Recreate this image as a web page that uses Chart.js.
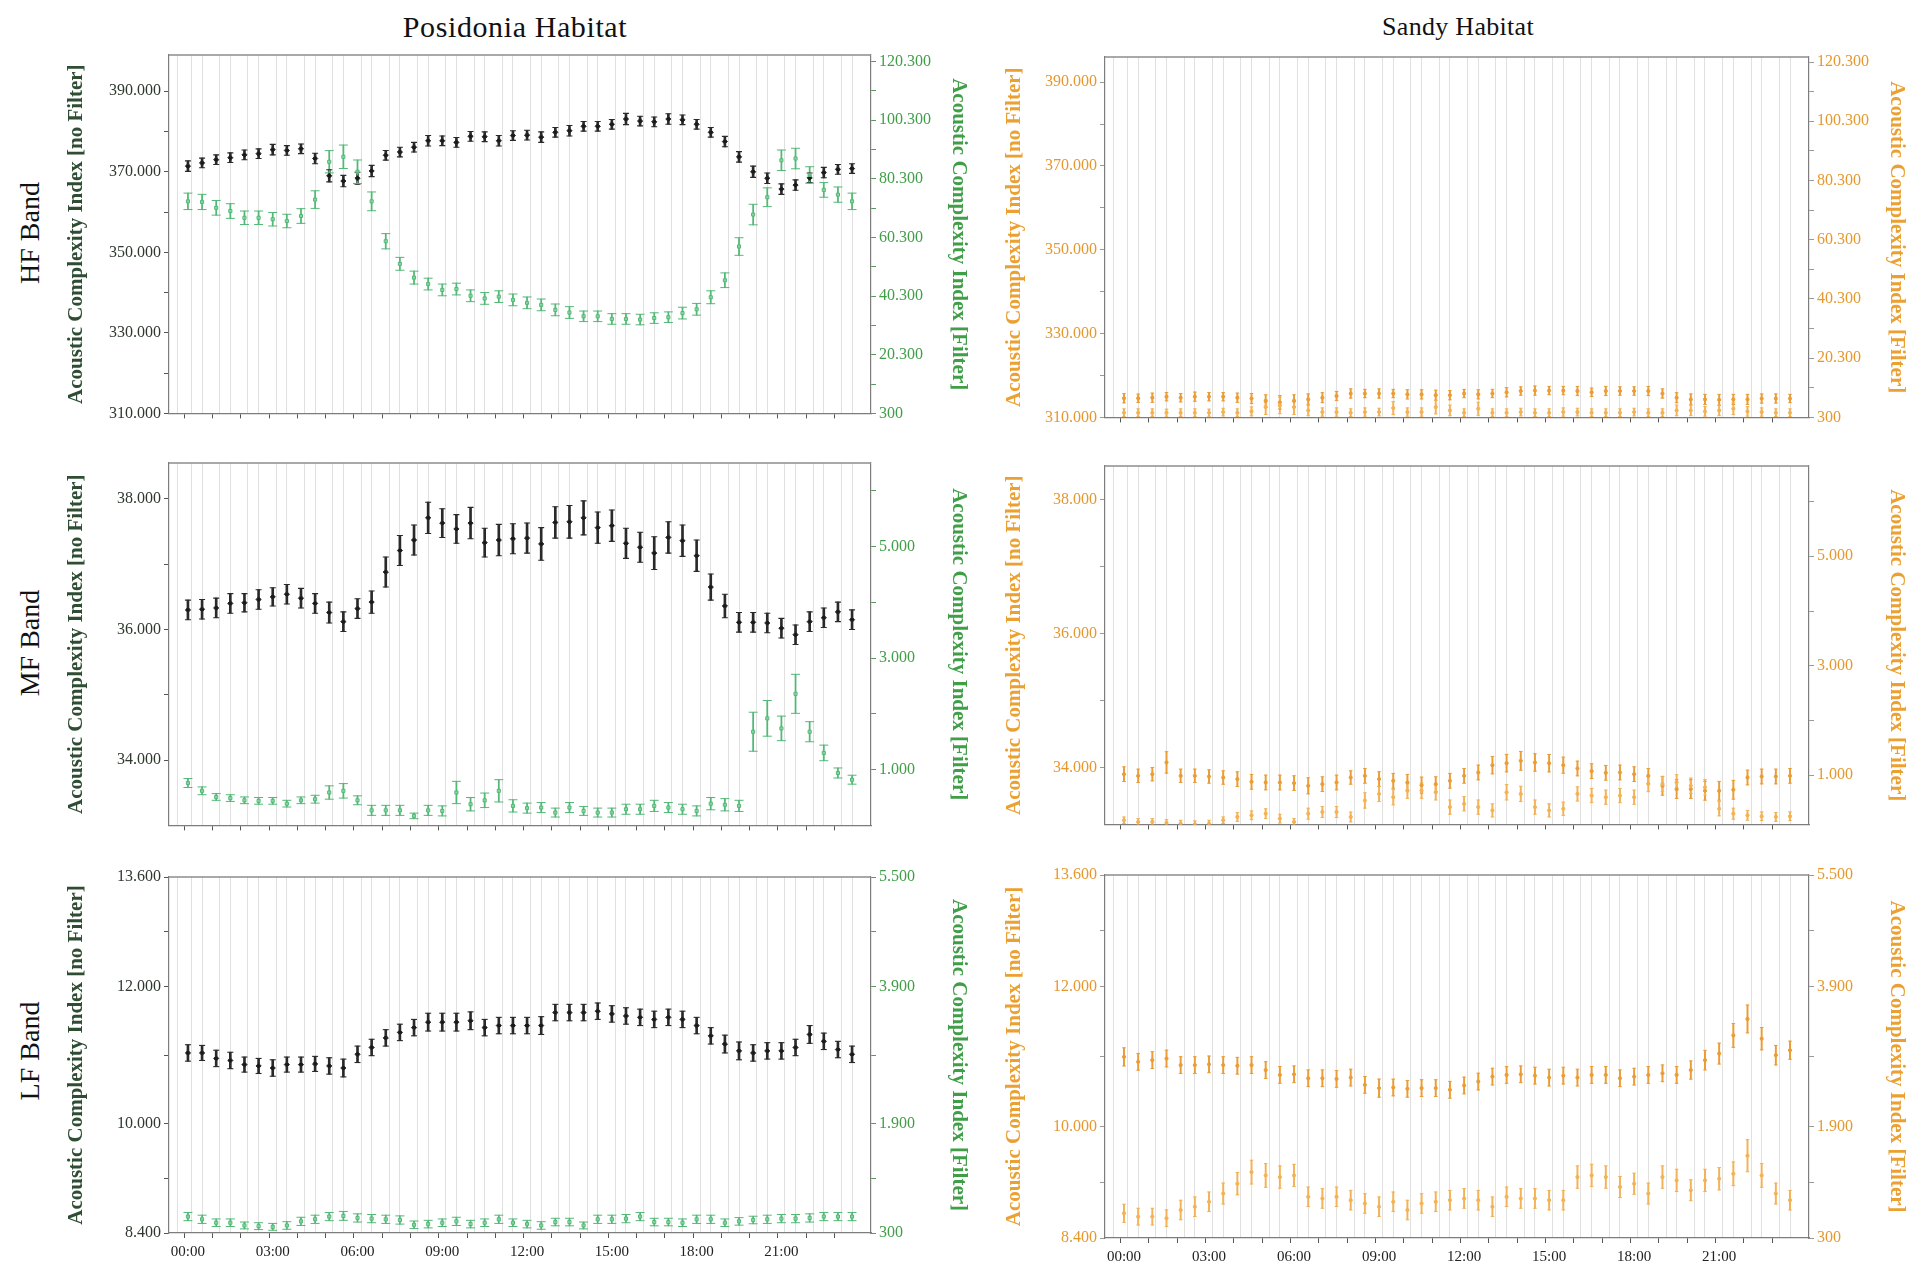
<!DOCTYPE html>
<html><head><meta charset="utf-8">
<script src="https://cdn.jsdelivr.net/npm/chart.js@4.4.1/dist/chart.umd.min.js"></script>
<style>
html,body{margin:0;padding:0;background:#fff;}
body{width:1912px;height:1267px;position:relative;overflow:hidden;font-family:'Liberation Serif',serif;}
canvas{position:absolute;}
.ttl{position:absolute;white-space:nowrap;color:#111;transform:translate(-50%,-50%);}
.row{position:absolute;white-space:nowrap;color:#111;font-size:28px;transform:translate(-50%,-50%) rotate(-90deg);}
</style></head><body>
<div class="ttl" style="left:515px;top:27px;font-size:30px;letter-spacing:0.6px;">Posidonia Habitat</div>
<div class="ttl" style="left:1458px;top:27px;font-size:26px;letter-spacing:0.3px;">Sandy Habitat</div>
<div class="row" style="left:30px;top:233px;">HF Band</div>
<div class="row" style="left:30px;top:643px;">MF Band</div>
<div class="row" style="left:30px;top:1051px;">LF Band</div>
<canvas id="c1" width="907" height="10"></canvas>
<canvas id="c2" width="907" height="10"></canvas>
<canvas id="c3" width="907" height="10"></canvas>
<canvas id="c4" width="907" height="10"></canvas>
<canvas id="c5" width="907" height="10"></canvas>
<canvas id="c6" width="907" height="10"></canvas>
<script>
// ---------------- categories & tick labels ----------------
const times = ['00:00','00:30','01:00','01:30','02:00','02:30','03:00','03:30','04:00','04:30','05:00','05:30',
 '06:00','06:30','07:00','07:30','08:00','08:30','09:00','09:30','10:00','10:30','11:00','11:30',
 '12:00','12:30','13:00','13:30','14:00','14:30','15:00','15:30','16:00','16:30','17:00','17:30',
 '18:00','18:30','19:00','19:30','20:00','20:30','21:00','21:30','22:00','22:30','23:00','23:30'];
const timeTickLabels = ['00:00','03:00','06:00','09:00','12:00','15:00','18:00','21:00'];
const hourMarks = ['00:00','01:00','02:00','03:00','04:00','05:00','06:00','07:00','08:00','09:00','10:00','11:00',
 '12:00','13:00','14:00','15:00','16:00','17:00','18:00','19:00','20:00','21:00','22:00','23:00'];

// y tick values
const hfLeftMajor = [310000, 330000, 350000, 370000, 390000];
const hfLeftMinor = [320000, 340000, 360000, 380000];
const hfRightMajor = [300, 20300, 40300, 60300, 80300, 100300, 120300];
const hfRightMinor = [10300, 30300, 50300, 70300, 90300, 110300];
const mfLeftMajor = [34000, 36000, 38000];
const mfLeftMinor = [35000, 37000];
const mfRightMajor = [1000, 3000, 5000];
const mfRightMinor = [2000, 4000, 6000];
const lfLeftMajor = [8400, 10000, 12000, 13600];
const lfLeftMinor = [9200, 11000, 12800];
const lfRightMajor = [300, 1900, 3900, 5500];
const lfRightMinor = [1100, 2900, 4700];

// ---------------- Posidonia HF ----------------
const posHfNoFilter = [371400,372200,373000,373500,374200,374500,375500,375300,375700,373300,369000,367700,
 368400,370200,374100,374900,376100,377700,377700,377300,378800,378700,377700,379000,
 379100,378600,379800,380200,381300,381300,381800,383100,382600,382400,383100,382900,
 381800,379800,377500,373700,370000,368400,365700,366700,368500,369800,370600,370800];
const posHfNoFilterErr = [1300,1200,1200,1200,1200,1200,1300,1200,1200,1300,1500,1400,
 1500,1400,1200,1200,1200,1300,1200,1200,1200,1200,1300,1200,
 1200,1300,1200,1300,1200,1200,1200,1400,1200,1200,1300,1200,
 1200,1200,1300,1300,1400,1300,1300,1300,1200,1300,1200,1200];
const posHfFilter = [72600,72400,70400,69300,67000,67000,66500,65900,67600,73200,86100,87800,
 82700,72600,59000,51300,46600,44400,42400,42700,40400,39500,40100,39000,
 38000,37300,35600,34700,33400,33400,32500,32500,32300,32800,33100,34500,
 35800,39900,45700,57200,68100,74000,86600,87200,81600,76500,74900,72600];
const posHfFilterErr = [2800,2600,2500,2500,2300,2300,2300,2300,2500,3000,3800,4000,
 4000,3200,2600,2200,2200,2000,2000,2000,2000,2000,2000,2000,
 2000,2000,2000,2000,1800,1800,1800,1800,1800,1800,1800,2000,
 2000,2200,2500,3000,3500,3200,3500,3500,2800,2500,2600,2800];

// ---------------- Posidonia MF ----------------
const posMfNoFilter = [36300,36310,36330,36400,36410,36460,36500,36540,36480,36400,36260,36120,
 36320,36420,36880,37210,37370,37710,37630,37540,37630,37330,37370,37390,
 37400,37310,37640,37650,37710,37560,37590,37320,37260,37170,37410,37360,
 37130,36650,36360,36110,36110,36100,36020,35920,36120,36180,36270,36150];
const posMfNoFilterErr = [150,150,150,150,140,150,140,150,150,150,160,150,
 150,170,230,230,230,240,220,220,240,220,240,230,
 230,250,240,250,260,240,240,230,230,250,240,240,
 240,200,180,150,150,150,150,150,150,150,150,150];
const posMfFilter = [760,620,510,490,450,440,440,390,450,470,590,620,
 450,270,270,270,170,270,260,590,380,450,620,350,
 310,320,230,320,260,230,230,290,290,350,320,290,
 260,390,370,350,1680,1920,1740,2360,1680,1300,940,820];
const posMfFilterErr = [80,70,60,60,60,60,60,60,60,70,120,130,
 80,90,90,90,50,90,90,200,120,130,200,110,
 90,90,80,90,80,80,80,90,90,100,90,90,
 90,110,110,100,350,320,220,350,180,140,90,80];

// ---------------- Posidonia LF ----------------
const posLfNoFilter = [11030,11030,10950,10920,10860,10840,10810,10860,10860,10870,10840,10810,
 11010,11110,11250,11330,11400,11480,11480,11480,11500,11400,11430,11430,
 11430,11430,11620,11620,11620,11640,11600,11570,11550,11520,11550,11520,
 11430,11280,11160,11060,11030,11060,11060,11110,11300,11200,11080,11010];
const posLfNoFilterErr = [120,110,120,120,110,110,120,110,110,110,120,130,
 120,120,120,120,120,130,130,130,130,120,120,120,
 120,130,120,120,120,120,120,120,120,120,120,120,
 120,120,130,130,120,120,120,120,130,120,120,120];
const posLfFilter = [540,500,450,450,410,400,390,410,470,500,540,550,
 520,510,500,490,420,430,450,470,430,450,500,450,
 430,410,460,460,410,500,500,510,540,460,460,450,
 500,500,450,470,490,500,510,510,520,540,540,540];
const posLfFilterErr = [60,60,55,55,50,50,50,55,60,60,60,65,
 60,60,60,60,55,55,55,60,55,55,60,55,
 55,55,55,55,50,60,60,60,60,55,55,55,
 60,60,55,55,55,60,60,60,60,60,60,60];

// ---------------- Sandy HF ----------------
const sandHfNoFilter = [314560,314560,314700,314950,314700,314950,314950,314950,314700,314500,313900,313600,
 313900,314300,314700,315100,315700,315700,315700,315700,315500,315500,315300,315300,
 315700,315500,315700,316000,316300,316400,316400,316400,316300,316000,316300,316300,
 316300,316300,315700,314700,314300,314300,314200,314300,314300,314500,314500,314500];
const sandHfNoFilterErr = [1100,1000,1100,1000,1000,1100,1000,1000,1100,1200,1500,1600,
 1500,1300,1200,1100,1100,1000,1100,1000,1100,1100,1200,1100,
 1000,1100,1000,1100,1000,1100,1000,1000,1100,1000,1100,1000,
 1000,1100,1100,1200,1300,1200,1300,1200,1200,1100,1100,1000];
const sandHfFilter = [1880,1880,1880,1880,1880,1880,1880,2100,1880,2330,3790,4350,
 3790,2670,2100,2100,1880,2100,2100,3450,2100,2100,3790,2670,
 1880,3230,1880,1880,2100,1880,1880,2100,2100,1880,1880,1880,
 2100,1880,1880,2670,2670,2330,2670,3230,2330,2100,1880,1880];
const sandHfFilterErr = [1300,1300,1300,1200,1300,1300,1200,1300,1300,1500,2500,2800,
 2500,1800,1400,1400,1300,1400,1300,2200,1400,1400,2300,1800,
 1300,2200,1300,1300,1300,1300,1300,1400,1300,1300,1300,1300,
 1300,1300,1300,1800,1800,1600,1800,2000,1600,1400,1300,1300];

// ---------------- Sandy MF ----------------
const sandMfNoFilter = [33900,33875,33900,34075,33875,33875,33865,33850,33826,33786,33776,33776,
 33766,33726,33751,33776,33850,33875,33826,33801,33776,33736,33751,33801,
 33875,33925,34034,34064,34099,34075,34064,34034,33985,33945,33920,33925,
 33900,33875,33726,33677,33677,33652,33652,33667,33850,33865,33865,33875];
const sandMfNoFilterErr = [110,100,100,160,100,100,100,100,110,110,110,110,
 110,120,110,110,100,110,110,110,120,120,110,110,
 110,110,130,130,140,130,130,120,110,110,110,110,
 110,110,140,140,140,140,140,140,110,110,110,110];
const sandMfFilter = [176,146,146,128,116,103,116,176,236,266,296,206,
 146,296,326,326,236,537,657,597,717,717,687,416,
 477,416,356,687,657,416,356,386,657,627,597,627,
 597,838,838,868,807,777,386,296,266,248,236,248];
const sandMfFilterErr = [60,60,60,60,60,60,60,60,80,80,90,80,
 60,100,100,100,90,140,140,140,140,140,140,130,
 130,130,120,140,140,130,120,120,130,130,130,130,
 130,140,140,140,140,140,130,100,90,80,80,80];

// ---------------- Sandy LF ----------------
const sandLfNoFilter = [10995,10924,10948,10971,10877,10877,10887,10877,10868,10877,10806,10736,
 10745,10688,10688,10679,10698,10594,10547,10556,10537,10547,10547,10523,
 10585,10641,10712,10736,10745,10726,10698,10726,10698,10736,10736,10688,
 10712,10736,10759,10736,10806,10948,11042,11302,11538,11255,11019,11090];
const sandLfNoFilterErr = [130,120,120,120,120,120,120,120,120,120,120,120,
 120,120,120,120,120,120,130,120,120,120,120,120,
 120,120,120,120,120,120,120,120,120,120,120,120,
 120,120,120,120,130,140,150,170,200,160,140,130];
const sandLfFilter = [654,606,606,583,701,748,819,937,1078,1244,1196,1173,
 1196,890,866,890,842,795,748,819,701,795,819,842,
 866,842,748,890,866,866,842,842,1173,1196,1173,1031,
 1078,937,1173,1125,984,1125,1149,1220,1479,1196,937,842];
const sandLfFilterErr = [130,120,120,120,140,140,140,150,160,170,170,160,
 160,140,140,140,140,140,140,140,140,140,140,140,
 140,140,140,140,140,140,140,140,160,160,160,150,
 150,150,160,160,150,160,160,170,230,170,150,140];

// ---------------- helpers ----------------
const FONT = 'Liberation Serif';
function fmt(v){ return String(Math.round(v)).replace(/\B(?=(\d{3})+(?!\d))/g, '.'); }

const STYLES = {
  dark:   {color:'#2a2a2a', bar:2,   cap:3,   marker:'rectRot', r:2.6, fill:'#1a1a1a', capW:1.1},
  green:  {color:'#52b876', bar:1.1, cap:4.5, marker:'rect',    r:2.2, fill:'rgba(150,220,175,0.7)', capW:1},
  orange: {color:'#eb9c34', bar:1.3, cap:1.8, marker:'circle',  r:1.6, fill:'#eb9c34', capW:1},
  orangeL:{color:'#f3b255', bar:1.3, cap:1.8, marker:'circle',  r:1.6, fill:'#f3b255', capW:1}
};

function errorDatasets(mean, err, axis, st) {
  return [
    {type:'bar', xAxisID:'x', yAxisID:axis, grouped:false, barThickness:st.bar, borderWidth:0,
     backgroundColor:st.color, order:3,
     data: mean.map((v,i)=>({x:i, y:[v-err[i], v+err[i]]}))},
    {type:'scatter', xAxisID:'x', yAxisID:axis, pointStyle:'line', pointRadius:st.cap, borderColor:st.color,
     borderWidth:st.capW, order:2,
     data: mean.flatMap((v,i)=>[{x:i, y:v-err[i]}, {x:i, y:v+err[i]}])},
    {type:'scatter', xAxisID:'x', yAxisID:axis, pointStyle:st.marker, pointRadius:st.r, backgroundColor:st.fill,
     borderColor:st.color, borderWidth:1, order:1,
     data: mean.map((v,i)=>({x:i, y:v}))}
  ];
}

function yScale(pos, rng, major, minor, tickColor, markColor, title, titleColor, w) {
  const all = major.concat(minor).filter(v=>v>=rng[0] && v<=rng[1]).sort((a,b)=>a-b);
  const majorSet = new Set(major);
  return {
    type:'linear', position:pos, min:rng[0], max:rng[1],
    afterBuildTicks: s => { s.ticks = all.map(v=>({value:v})); },
    afterFit: s => { s.width = w; },
    ticks:{autoSkip:false, color:tickColor, padding:3, font:{family:FONT, size:16},
      callback: v => majorSet.has(v) ? fmt(v) : ''},
    grid:{drawOnChartArea:false, color:markColor, tickLength:5, lineWidth:1},
    border:{display:true, color:'#7d7d7d', width:1.2},
    title:{display:true, text:title, color:titleColor, padding:0, font:{family:FONT, size:21, weight:'bold'}}
  };
}

function isInt(c){ return !!(c && c.tick && Number.isInteger(c.tick.value)); }
function isHalf(c){ return !!(c && c.tick && !Number.isInteger(c.tick.value)); }

function xScale(showLabels, h) {
  const vals = [];
  times.forEach((t,i)=>{ vals.push(i - 0.5); if (hourMarks.includes(t)) vals.push(i); });
  vals.push(times.length - 0.5);
  vals.sort((a,b)=>a-b);
  return {
    type:'linear', position:'bottom', min:-1, max:times.length,
    afterBuildTicks: s => { s.ticks = vals.map(v=>({value:v})); },
    afterFit: s => { s.height = h; },
    ticks:{autoSkip:false, maxRotation:0, minRotation:0, color:'#222', padding:5,
      font:{family:FONT, size:15},
      callback: v => (showLabels && Number.isInteger(v) && timeTickLabels.includes(times[v])) ? times[v] : ''},
    grid:{drawOnChartArea:true, tickLength:5, lineWidth:1,
      color: c => isHalf(c) ? '#e0e0e0' : 'rgba(0,0,0,0)',
      tickColor: c => isInt(c) ? '#555' : 'rgba(0,0,0,0)'},
    border:{display:true, color:'#7d7d7d', width:1.2}
  };
}

const frame = {id:'frame', afterDatasetsDraw(c){
  const a = c.chartArea, ctx = c.ctx; ctx.save();
  ctx.strokeStyle = '#8c8c8c'; ctx.lineWidth = 1.6;
  ctx.beginPath(); ctx.moveTo(a.left, a.top); ctx.lineTo(a.right, a.top); ctx.stroke();
  ctx.restore();
}};

const COLS = {
  pos:  {left:64,   width:907, leftW:105, rightW:100,
         lTick:'#2e382e', lMark:'#555', lTitle:'#2f4d33', rTick:'#3f9e47', rMark:'#5a9a5a', rTitle:'#3f9e47',
         s1:'dark', s2:'green'},
  sand: {left:1002, width:907, leftW:103, rightW:100,
         lTick:'#e6982e', lMark:'#999', lTitle:'#eba032', rTick:'#e6982e', rMark:'#999', rTitle:'#eba032',
         s1:'orange', s2:'orangeL'}
};
const TITLE_L = 'Acoustic Complexity Index [no Filter]';
const TITLE_R = 'Acoustic Complexity Index [Filter]';
const PADTOP = 14;

const panels = [
  {id:'c1', col:'pos',  top:55,  bottom:418,  labels:false, yl:[310000,399000], yr:[300,122500],
   lt:[hfLeftMajor,hfLeftMinor], rt:[hfRightMajor,hfRightMinor],
   a:[posHfNoFilter,posHfNoFilterErr], b:[posHfFilter,posHfFilterErr]},
  {id:'c2', col:'sand', top:57,  bottom:422,  labels:false, yl:[310000,396000], yr:[300,122000],
   lt:[hfLeftMajor,hfLeftMinor], rt:[hfRightMajor,hfRightMinor],
   a:[sandHfNoFilter,sandHfNoFilterErr], b:[sandHfFilter,sandHfFilterErr]},
  {id:'c3', col:'pos',  top:463, bottom:830,  labels:false, yl:[33000,38550], yr:[0,6500],
   lt:[mfLeftMajor,mfLeftMinor], rt:[mfRightMajor,mfRightMinor],
   a:[posMfNoFilter,posMfNoFilterErr], b:[posMfFilter,posMfFilterErr]},
  {id:'c4', col:'sand', top:466, bottom:829,  labels:false, yl:[33150,38500], yr:[100,6650],
   lt:[mfLeftMajor,mfLeftMinor], rt:[mfRightMajor,mfRightMinor],
   a:[sandMfNoFilter,sandMfNoFilterErr], b:[sandMfFilter,sandMfFilterErr]},
  {id:'c5', col:'pos',  top:877, bottom:1233, labels:true,  yl:[8400,13600], yr:[300,5500],
   lt:[lfLeftMajor,lfLeftMinor], rt:[lfRightMajor,lfRightMinor],
   a:[posLfNoFilter,posLfNoFilterErr], b:[posLfFilter,posLfFilterErr]},
  {id:'c6', col:'sand', top:875, bottom:1238, labels:true,  yl:[8400,13600], yr:[300,5500],
   lt:[lfLeftMajor,lfLeftMinor], rt:[lfRightMajor,lfRightMinor],
   a:[sandLfNoFilter,sandLfNoFilterErr], b:[sandLfFilter,sandLfFilterErr]}
];

panels.forEach(p => {
  const C = COLS[p.col];
  const xH = p.labels ? 28 : 8;
  const cv = document.getElementById(p.id);
  cv.width = C.width;
  cv.height = (p.bottom - p.top) + PADTOP + xH;
  cv.style.left = C.left + 'px';
  cv.style.top = (p.top - PADTOP) + 'px';
  new Chart(cv, {
    type:'scatter',
    data:{datasets:[
      ...errorDatasets(p.b[0], p.b[1], 'yR', STYLES[C.s2]),
      ...errorDatasets(p.a[0], p.a[1], 'y',  STYLES[C.s1])
    ]},
    options:{
      responsive:false, animation:false, events:[],
      layout:{padding:{top:PADTOP, left:0, right:0, bottom:0}},
      plugins:{legend:{display:false}, tooltip:{enabled:false}},
      scales:{
        x: xScale(p.labels, xH),
        y: yScale('left',  p.yl, p.lt[0], p.lt[1], C.lTick, C.lMark, TITLE_L, C.lTitle, C.leftW),
        yR: yScale('right', p.yr, p.rt[0], p.rt[1], C.rTick, C.rMark, TITLE_R, C.rTitle, C.rightW)
      }
    },
    plugins:[frame]
  });
});
</script>
</body></html>
